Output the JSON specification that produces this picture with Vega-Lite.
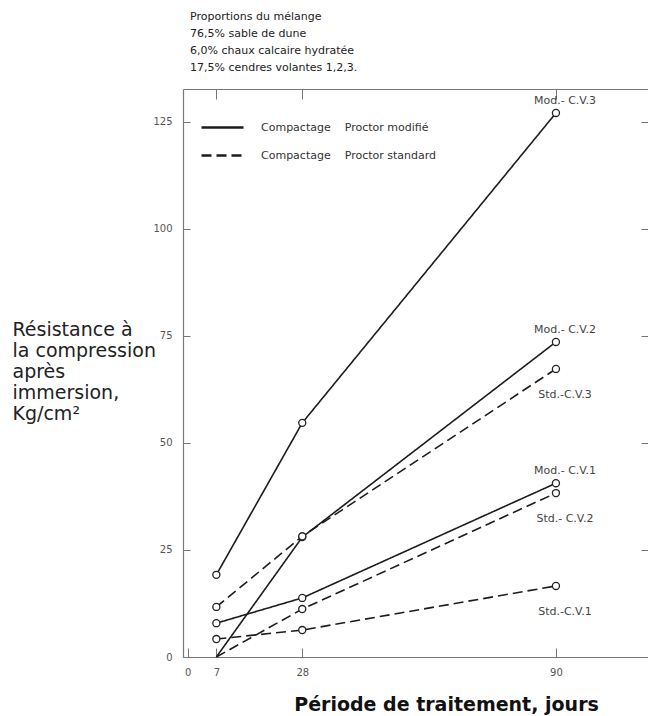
{
  "$schema": "https://vega.github.io/schema/vega-lite/v6.json",
  "width": 465,
  "height": 568,
  "autosize": {"type": "none"},
  "padding": {"left": 183, "top": 89, "right": 0, "bottom": 59},
  "background": "white",
  "title": {
    "text": ["Proportions du mélange", "76,5% sable de dune", "6,0% chaux calcaire hydratée", "17,5% cendres volantes 1,2,3."],
    "anchor": "start",
    "frame": "group",
    "dx": 7,
    "offset": 16,
    "fontSize": 11,
    "font": "DejaVu Sans",
    "fontWeight": "normal",
    "color": "#222",
    "lineHeight": 17
  },
  "data": {
    "values": [
      {"courbe": "Mod.- C.V.3", "compactage": "Mod.", "jours": 7, "r": 19.2},
      {"courbe": "Mod.- C.V.3", "compactage": "Mod.", "jours": 28, "r": 54.7},
      {"courbe": "Mod.- C.V.3", "compactage": "Mod.", "jours": 90, "r": 127.1},
      {"courbe": "Mod.- C.V.2", "compactage": "Mod.", "jours": 7, "r": 0},
      {"courbe": "Mod.- C.V.2", "compactage": "Mod.", "jours": 28, "r": 28.0},
      {"courbe": "Mod.- C.V.2", "compactage": "Mod.", "jours": 90, "r": 73.6},
      {"courbe": "Mod.- C.V.1", "compactage": "Mod.", "jours": 7, "r": 7.9},
      {"courbe": "Mod.- C.V.1", "compactage": "Mod.", "jours": 28, "r": 13.8},
      {"courbe": "Mod.- C.V.1", "compactage": "Mod.", "jours": 90, "r": 40.6},
      {"courbe": "Std.-C.V.3", "compactage": "Std.", "jours": 7, "r": 11.7},
      {"courbe": "Std.-C.V.3", "compactage": "Std.", "jours": 28, "r": 28.2},
      {"courbe": "Std.-C.V.3", "compactage": "Std.", "jours": 90, "r": 67.3},
      {"courbe": "Std.- C.V.2", "compactage": "Std.", "jours": 7, "r": 0},
      {"courbe": "Std.- C.V.2", "compactage": "Std.", "jours": 28, "r": 11.2},
      {"courbe": "Std.- C.V.2", "compactage": "Std.", "jours": 90, "r": 38.3},
      {"courbe": "Std.-C.V.1", "compactage": "Std.", "jours": 7, "r": 4.2},
      {"courbe": "Std.-C.V.1", "compactage": "Std.", "jours": 28, "r": 6.3},
      {"courbe": "Std.-C.V.1", "compactage": "Std.", "jours": 90, "r": 16.6}
    ]
  },
  "layer": [
    {
      "mark": {"type": "line", "strokeWidth": 1.6, "color": "#1c1c1c"},
      "encoding": {
        "x": {
          "field": "jours", "type": "quantitative",
          "scale": {"domain": [-1.15, 112.5], "nice": false, "zero": false},
          "axis": {
            "orient": "bottom",
            "values": [0, 7, 28, 90],
            "grid": false,
            "tickSize": -9,
            "tickColor": "#777",
            "domainColor": "#777",
            "domainWidth": 1.2,
            "labelFontSize": 10,
            "labelColor": "#555",
            "labelFont": "DejaVu Sans",
            "labelPadding": 19,
            "title": "Période de traitement, jours",
            "titleFont": "DejaVu Sans",
            "titleFontSize": 19,
            "titleFontWeight": "bold",
            "titleColor": "#111",
            "titleAlign": "center",
            "titleBaseline": "alphabetic",
            "titleX": 263,
            "titleY": 53
          }
        },
        "y": {
          "field": "r", "type": "quantitative",
          "scale": {"domain": [0, 132.7], "nice": false},
          "axis": {
            "orient": "left",
            "values": [0, 25, 50, 75, 100, 125],
            "grid": false,
            "tickSize": -7,
            "tickColor": "#777",
            "domainColor": "#777",
            "domainWidth": 1.2,
            "labelFontSize": 10,
            "labelColor": "#555",
            "labelFont": "DejaVu Sans",
            "labelPadding": 18,
            "title": ["Résistance à", "la compression", "après", "immersion,", "Kg/cm²"],
            "titleFont": "DejaVu Sans",
            "titleFontSize": 19,
            "titleFontWeight": "normal",
            "titleColor": "#222",
            "titleAngle": 0,
            "titleAlign": "left",
            "titleBaseline": "alphabetic",
            "titleX": -171,
            "titleY": 246,
            "titleLineHeight": 21
          }
        },
        "detail": {"field": "courbe"},
        "strokeDash": {
          "field": "compactage", "type": "nominal",
          "scale": {"domain": ["Mod.", "Std."], "range": [[1, 0], [10, 5]]},
          "legend": {
            "title": null,
            "orient": "none",
            "legendX": 17,
            "legendY": 16,
            "symbolType": "stroke",
            "symbolSize": 1764,
            "symbolStrokeWidth": 2.5,
            "symbolStrokeColor": "#1c1c1c",
            "rowPadding": -19,
            "labelOffset": 16,
            "labelLimit": 0,
            "labelFont": "DejaVu Sans",
            "labelFontSize": 11,
            "labelColor": "#333",
            "labelExpr": "datum.label == 'Mod.' ? 'Compactage\u00a0\u00a0\u00a0\u00a0Proctor modifié' : 'Compactage\u00a0\u00a0\u00a0\u00a0Proctor standard'"
          }
        }
      }
    },
    {
      "transform": [{"filter": "datum.r > 0"}],
      "mark": {"type": "point", "shape": "circle", "size": 50, "filled": true, "fill": "white", "stroke": "#222", "strokeWidth": 1.3, "opacity": 1},
      "encoding": {
        "x": {
          "field": "jours", "type": "quantitative",
          "axis": {
            "orient": "top",
            "values": [7, 28, 90],
            "labels": false,
            "grid": false,
            "title": null,
            "tickSize": -10,
            "tickColor": "#777",
            "domainColor": "#777",
            "domainWidth": 1.2
          }
        },
        "y": {
          "field": "r", "type": "quantitative",
          "axis": {
            "orient": "right",
            "values": [25, 50, 75, 100, 125],
            "labels": false,
            "grid": false,
            "title": null,
            "domain": false,
            "tickSize": -7,
            "tickColor": "#777"
          }
        }
      }
    },
    {
      "transform": [{"filter": "datum.jours == 90 && datum.compactage == 'Mod.'"}],
      "mark": {"type": "text", "dx": 9, "dy": -12, "fontSize": 11, "font": "DejaVu Sans", "color": "#444", "align": "center", "baseline": "middle"},
      "encoding": {
        "x": {"field": "jours", "type": "quantitative", "axis": null},
        "y": {"field": "r", "type": "quantitative", "axis": null},
        "text": {"field": "courbe"}
      }
    },
    {
      "transform": [{"filter": "datum.jours == 90 && datum.compactage == 'Std.'"}],
      "mark": {"type": "text", "dx": 9, "dy": 26, "fontSize": 11, "font": "DejaVu Sans", "color": "#444", "align": "center", "baseline": "middle"},
      "encoding": {
        "x": {"field": "jours", "type": "quantitative", "axis": null},
        "y": {"field": "r", "type": "quantitative", "axis": null},
        "text": {"field": "courbe"}
      }
    }
  ],
  "resolve": {"axis": {"x": "independent", "y": "independent"}},
  "config": {"view": {"stroke": null}, "font": "DejaVu Sans"}
}
